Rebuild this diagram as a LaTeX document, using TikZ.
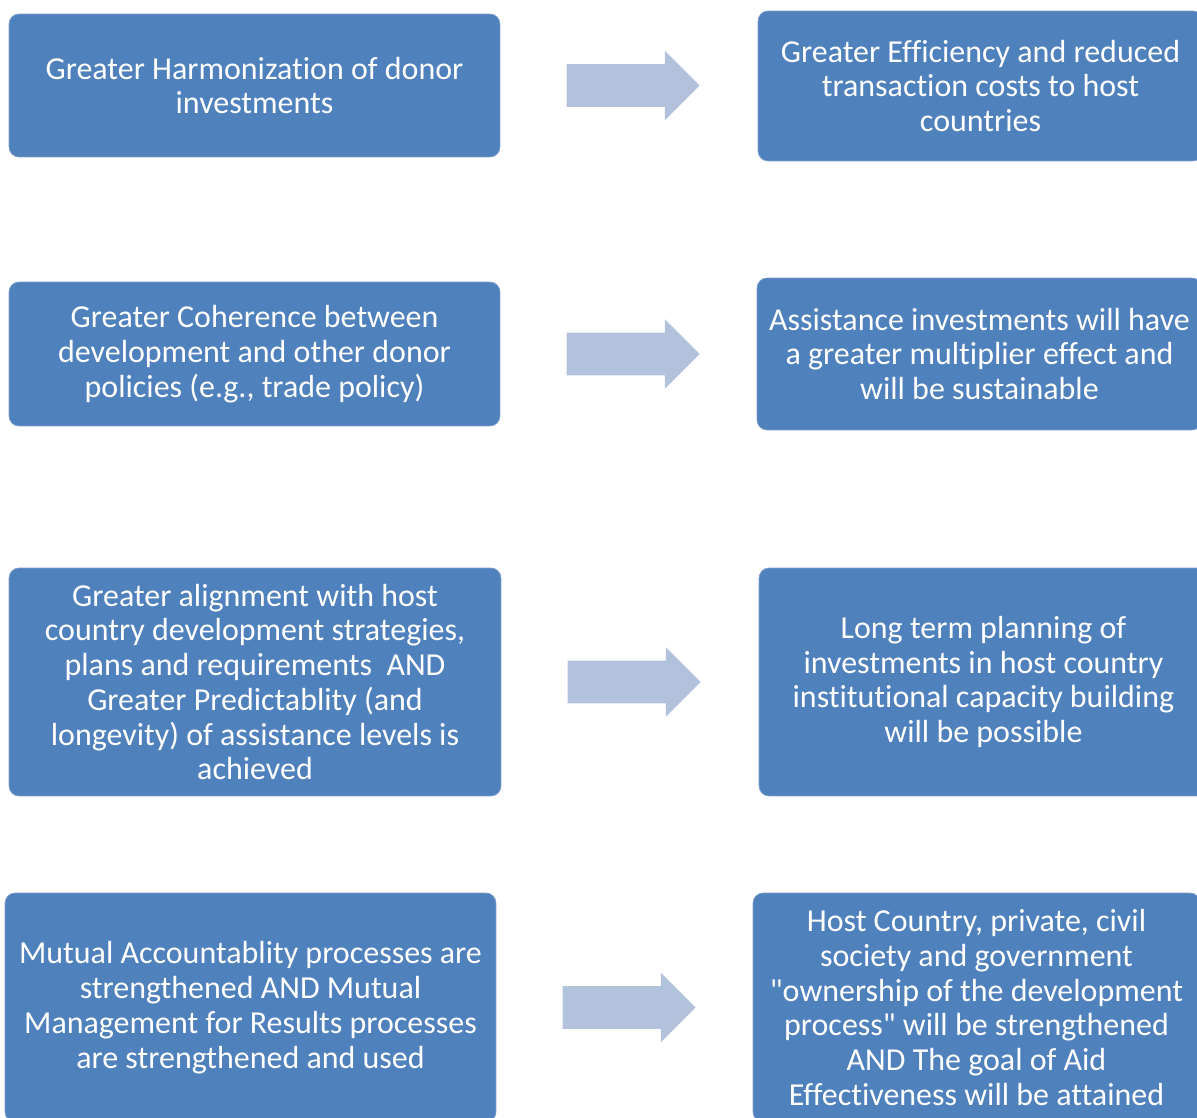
\documentclass[tikz,border=0pt]{standalone}
\usepackage{fontspec}
\setmainfont{Carlito}[RawFeature={-liga;-clig}]
\usetikzlibrary{calc,shapes.arrows}
\definecolor{boxblue}{RGB}{79,129,189}
\definecolor{boxedge}{RGB}{125,158,204}
\definecolor{arrowblue}{RGB}{179,194,220}

\begin{document}
\begin{tikzpicture}[x=0.02cm,y=-0.02cm,
	goal/.style={fill=boxblue,draw=boxedge,line width=0.4pt,rounded corners=0.2cm,text=white,align=center,inner sep=0pt,font=\fontsize{18.2}{19.8}\selectfont},
	push/.style={single arrow,fill=arrowblue,draw=none,minimum height=2.66cm,minimum width=1.38cm,single arrow head extend=0.27cm,inner sep=0pt,anchor=tail}]
	\useasboundingbox (0,0) rectangle (1197,1118);
	\clip (0,0) rectangle (1197,1118);
	% causes
	\node[goal,minimum width=9.82cm,minimum height=2.86cm] (l1) at (254.5,85.5) {Greater Harmonization of donor\\investments};
	\node[goal,minimum width=9.82cm,minimum height=2.88cm] (l2) at (254.5,354) {Greater Coherence between\\development and other donor\\policies (e.g., trade policy)};
	\node[goal,minimum width=9.84cm,minimum height=4.56cm] (l3) at (255,682) {Greater alignment with host\\country development strategies,\\plans and requirements~ AND\\Greater Predictablity (and\\longevity) of assistance levels is\\achieved};
	\node[goal,minimum width=9.82cm,minimum height=4.58cm] (l4) at (250.5,1007.5) {Mutual Accountablity processes are\\strengthened AND Mutual\\Management for Results processes\\are strengthened and used};
	% effects
	\node[goal,minimum width=8.9cm,minimum height=3cm] (r1) at (980.5,86) {Greater Efficiency and reduced\\transaction costs to host\\countries};
	\node[goal,minimum width=8.9cm,minimum height=3.04cm] (r2) at (979.5,354) {Assistance investments will have\\a greater multiplier effect and\\will be sustainable};
	\node[goal,minimum width=8.98cm,minimum height=4.56cm] (r3) at (983.5,682) {Long term planning of\\investments in host country\\institutional capacity building\\will be possible};
	\node[goal,minimum width=8.94cm,minimum height=4.58cm] (r4) at (976.5,1007.5) {Host Country, private, civil\\society and government\\\textquotedbl ownership of the development\\process\textquotedbl{} will be strengthened\\AND The goal of Aid\\Effectiveness will be attained};
	\foreach \r in {1,...,4}
	{ \node[push] (a\r) at ($(l\r.east)+(66,0)$) {\rule[-0.42cm]{0pt}{0.84cm}};
	}
\end{tikzpicture}
\end{document}
